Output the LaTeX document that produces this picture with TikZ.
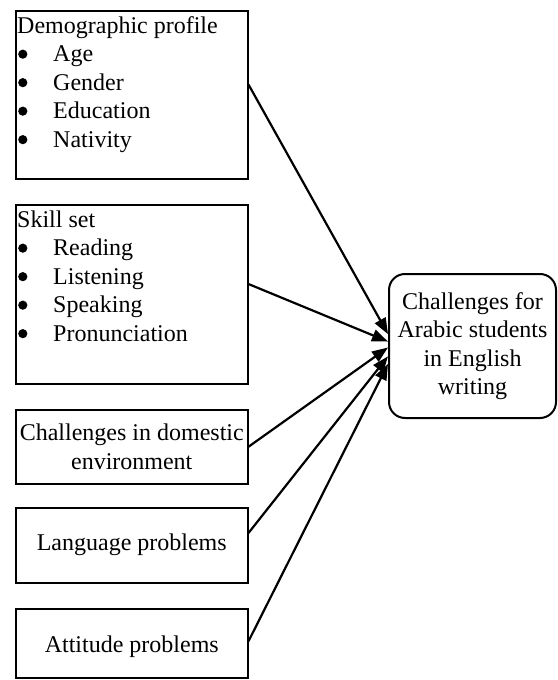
\documentclass[tikz,border=0pt]{standalone}
\usepackage{fontspec}
\setmainfont{Liberation Serif}
\usetikzlibrary{arrows.meta}
\newcommand\bul{\makebox[36pt][l]{\hspace{1pt}\tikz[baseline=0pt]\fill (5pt,7.5pt) circle (4.6pt);}}
\begin{document}
\begin{tikzpicture}[x=1pt,y=-1pt,
  box/.style={draw, line width=1.5pt, inner sep=0pt, anchor=north west},
  lbl/.style={inner sep=0pt, anchor=north west, font=\fontsize{24}{28.5}\selectfont},
  ctr/.style={inner sep=0pt, align=center, font=\fontsize{24}{28.5}\selectfont},
  conn/.style={line width=2.2pt, -{Triangle[length=16pt,width=12pt]}}
]
\useasboundingbox (0,0) rectangle (557,680);
% left boxes
\node[box, minimum width=232pt, minimum height=168pt] (b1) at (15,10) {};
\node[box, minimum width=232pt, minimum height=179pt] (b2) at (15,204) {};
\node[box, minimum width=232pt, minimum height=74pt] (b3) at (15,409) {};
\node[box, minimum width=232pt, minimum height=75pt] (b4) at (15,507) {};
\node[box, minimum width=232pt, minimum height=69pt] (b5) at (15,608) {};
% texts
\node[lbl] (t1) at (17,13) {\begin{tabular}{@{}l@{}}
Demographic profile\\
\bul Age\\
\bul Gender\\
\bul Education\\
\bul Nativity
\end{tabular}};
\node[lbl] (t2) at (17,207) {\begin{tabular}{@{}l@{}}
Skill set\\
\bul Reading\\
\bul Listening\\
\bul Speaking\\
\bul Pronunciation
\end{tabular}};
\node[ctr] (t3) at (b3.center) {Challenges in domestic\\environment};
\node[ctr] (t4) at (b4.center) {Language problems};
\node[ctr] (t5) at ([yshift=-3pt]b5.center) {Attitude problems};
% right box
\node[draw, line width=2pt, rounded corners=16pt, minimum width=167pt, minimum height=144pt, inner sep=0pt, anchor=north west] (r) at (388,273) {};
\node[ctr] (rt) at (r.center) {Challenges for\\Arabic students\\in English\\writing};
% connectors
\draw[conn] (b1.5) -- (r.172);
\draw[conn] (b2.5) -- (r.177);
\draw[conn] (b3.east) -- (r.181);
\draw[conn] (b4.6) -- (r.187);
\draw[conn] (b5.1) -- (r.192);
\end{tikzpicture}
\end{document}
